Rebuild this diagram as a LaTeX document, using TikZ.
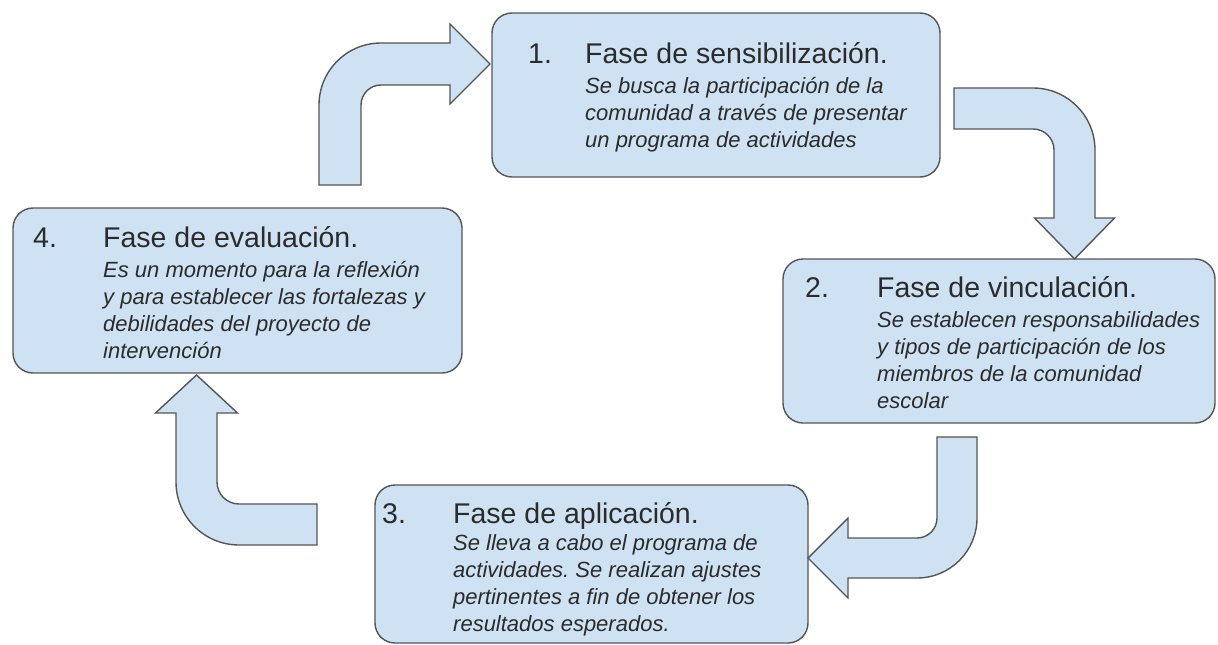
\documentclass[tikz,border=0pt]{standalone}
\usepackage{fontspec}
\setmainfont{Liberation Sans}
\usepackage{tikz}
\frenchspacing

\definecolor{boxblue}{HTML}{CFE2F3}
\definecolor{edgegray}{HTML}{555555}
\definecolor{inkgray}{HTML}{2B2B2B}

\tikzset{
  phase/.style={draw=edgegray, fill=boxblue, line width=1.4pt, rounded corners=20pt},
  bigarrow/.style={draw=edgegray, fill=boxblue, line width=1.4pt, line join=miter},
  numtxt/.style={anchor=base west, inner sep=0pt, text=inkgray, font=\fontsize{28.5}{32}\selectfont},
  titletxt/.style={anchor=base west, inner sep=0pt, text=inkgray, font=\fontsize{28.5}{32}\selectfont},
  % base of a multi-line node is its last line
  bodytxt/.style={anchor=base west, inner sep=0pt, align=left, text=inkgray, font=\fontsize{22}{27}\selectfont\itshape}
}

\begin{document}
\begin{tikzpicture}[x=1pt,y=-1pt]
\useasboundingbox (0,0) rectangle (1218,645);

% the four phases
\node[phase, minimum width=448pt, minimum height=164pt] (b1) at (716,95) {};
\node[phase, minimum width=432pt, minimum height=164pt] (b2) at (999,341) {};
\node[phase, minimum width=433pt, minimum height=158pt] (b3) at (591.5,564) {};
\node[phase, minimum width=449pt, minimum height=165pt] (b4) at (237.5,290.5) {};

\node[numtxt] (n1) at (528,63) {1.};
\node[titletxt] (t1) at (585,63) {Fase de sensibilización.};
\node[bodytxt] (d1) at (585,147) {Se busca la participación de la\\comunidad a través de presentar\\un programa de actividades};

\node[numtxt] (n2) at (805,297) {2.};
\node[titletxt] (t2) at (877,297) {Fase de vinculación.};
\node[bodytxt] (d2) at (877,408) {Se establecen responsabilidades\\y tipos de participación de los\\miembros de la comunidad\\escolar};

\node[numtxt] (n3) at (382,523) {3.};
\node[titletxt] (t3) at (453,523) {Fase de aplicación.};
\node[bodytxt] (d3) at (453,631) {Se lleva a cabo el programa de\\actividades. Se realizan ajustes\\pertinentes a fin de obtener los\\resultados esperados.};

\node[numtxt] (n4) at (33,247) {4.};
\node[titletxt] (t4) at (103,247) {Fase de evaluación.};
\node[bodytxt] (d4) at (103,358) {Es un momento para la reflexión\\y para establecer las fortalezas y\\debilidades del proyecto de\\intervención};

% bent arrows between phases
\coordinate (tip1) at (490,64);
\coordinate (tip2) at (1074.5,259);
\coordinate (tip3) at (808,558);
\coordinate (tip4) at (196.5,375);

% 4 -> 1
\draw[bigarrow] (319,185) -- (319,105) arc[start angle=180, end angle=270, radius=62]
  -- (450,43) -- (450,24) -- (tip1) -- (450,104) -- (450,85) -- (381,85)
  arc[start angle=270, end angle=180, radius=20] -- (361,185) -- cycle;
% 1 -> 2
\draw[bigarrow] (954,88) -- (1033,88) arc[start angle=270, end angle=360, radius=62]
  -- (1095,218) -- (1114.5,218) -- (tip2) -- (1034.5,218) -- (1054,218) -- (1054,150)
  arc[start angle=0, end angle=-90, radius=21] -- (954,129) -- cycle;
% 2 -> 3
\draw[bigarrow] (937,437) -- (977,437) -- (977,518) arc[start angle=0, end angle=90, radius=60]
  -- (848,578) -- (848,598) -- (tip3) -- (848,518) -- (848,538) -- (917,538)
  arc[start angle=90, end angle=0, radius=20] -- cycle;
% 3 -> 4
\draw[bigarrow] (317,545) -- (239,545) arc[start angle=90, end angle=180, radius=63]
  -- (176,413) -- (155.5,413) -- (tip4) -- (237.5,413) -- (217,413) -- (217,482)
  arc[start angle=180, end angle=90, radius=22] -- (317,504) -- cycle;
\end{tikzpicture}
\end{document}
